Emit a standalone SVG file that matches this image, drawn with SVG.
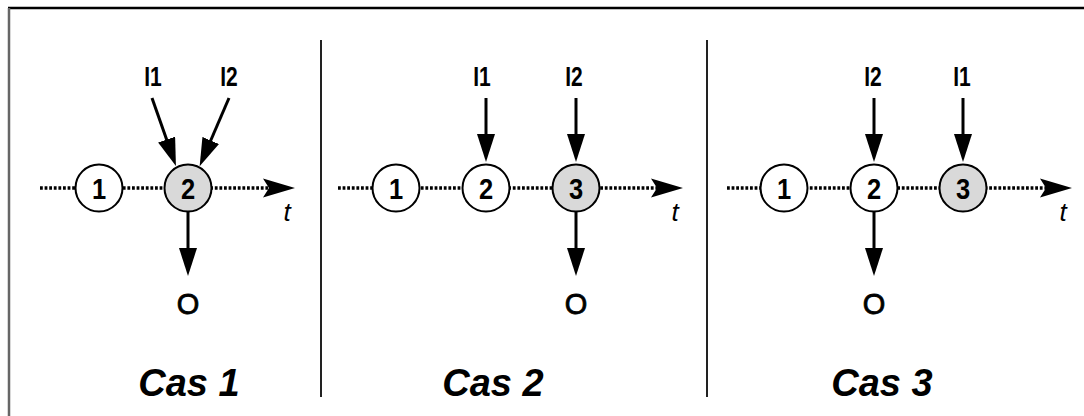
<svg xmlns="http://www.w3.org/2000/svg" width="1084" height="416" viewBox="0 0 1084 416">
<defs>
<style>
.frame-top{stroke:#000;stroke-width:2.5;fill:none}
.frame-left{stroke:#666;stroke-width:2.5;fill:none}
.div{stroke:#222;stroke-width:2;fill:none}
.dot{stroke:#000;stroke-width:3.5;stroke-dasharray:2.8 1.8;fill:none}
.arr{stroke:#000;stroke-width:3;fill:none}
.node{stroke:#000;stroke-width:2;fill:#fff}
.node.hl{fill:#d9d9d9}
.num{font-family:"Liberation Sans",Arial,sans-serif;font-weight:bold;font-size:30px;text-anchor:middle;fill:#000}
.lab{font-family:"Liberation Sans",Arial,sans-serif;font-weight:bold;font-size:28px;text-anchor:middle;fill:#000}
.out{font-family:"Liberation Sans",Arial,sans-serif;font-size:29px;text-anchor:middle;fill:#000;stroke:#000;stroke-width:0.8}
.t{font-family:"Liberation Sans",Arial,sans-serif;font-style:italic;font-size:26px;text-anchor:middle;fill:#000}
.cas{font-family:"Liberation Sans",Arial,sans-serif;font-weight:bold;font-style:italic;font-size:38px;text-anchor:middle;fill:#000}
</style>
<marker id="ah" markerUnits="userSpaceOnUse" markerWidth="28" markerHeight="18" refX="18" refY="9" orient="auto">
<path d="M0,0 L28,9 L0,18 z" fill="#000" stroke="none"/>
</marker>
<marker id="th" markerUnits="userSpaceOnUse" markerWidth="32" markerHeight="20" refX="6" refY="10" orient="auto">
<path d="M0,0.5 L32,10 L0,19.5 L6,10 z" fill="#000" stroke="none"/>
</marker>
</defs>
<rect width="1084" height="416" fill="#fff"/>
<g id="frame">
<line class="frame-top" x1="8" y1="8" x2="1084" y2="8"/>
<line class="frame-left" x1="9" y1="8" x2="9" y2="416"/>
<line class="div" x1="321" y1="40" x2="321" y2="397"/>
<line class="div" x1="707" y1="40" x2="707" y2="397"/>
</g>
<g id="connectors">
<line class="dot" x1="40" y1="188" x2="269" y2="188" marker-end="url(#th)"/>
<line class="dot" x1="338" y1="188" x2="657" y2="188" marker-end="url(#th)"/>
<line class="dot" x1="727" y1="188" x2="1046" y2="188" marker-end="url(#th)"/>
<line class="arr" x1="152" y1="98" x2="172.6" y2="156.6" marker-end="url(#ah)"/>
<line class="arr" x1="229" y1="98" x2="203.6" y2="157" marker-end="url(#ah)"/>
<line class="arr" x1="188" y1="212" x2="188" y2="266" marker-end="url(#ah)"/>
<line class="arr" x1="486" y1="98" x2="486" y2="152" marker-end="url(#ah)"/>
<line class="arr" x1="576" y1="98" x2="576" y2="152" marker-end="url(#ah)"/>
<line class="arr" x1="576" y1="212" x2="576" y2="266" marker-end="url(#ah)"/>
<line class="arr" x1="874" y1="98" x2="874" y2="152" marker-end="url(#ah)"/>
<line class="arr" x1="963" y1="98" x2="963" y2="152" marker-end="url(#ah)"/>
<line class="arr" x1="874" y1="212" x2="874" y2="266" marker-end="url(#ah)"/>
</g>
<g id="case1">
<g id="c1n1"><circle class="node" cx="99" cy="188" r="23.5"/><text class="num" transform="translate(99,198.5) scale(0.85,1)">1</text></g>
<g id="c1n2"><circle class="node hl" cx="188" cy="188" r="23.5"/><text class="num" transform="translate(188,198.5) scale(0.85,1)">2</text></g>
<text class="lab" transform="translate(153,86) scale(0.75,1)">I1</text>
<text class="lab" transform="translate(229,86) scale(0.75,1)">I2</text>
<text class="out" x="188" y="314">O</text>
<text class="t" x="287" y="221">t</text>
<text class="cas" x="189" y="396">Cas 1</text>
</g>
<g id="case2">
<g id="c2n1"><circle class="node" cx="396" cy="188" r="23.5"/><text class="num" transform="translate(396,198.5) scale(0.85,1)">1</text></g>
<g id="c2n2"><circle class="node" cx="486" cy="188" r="23.5"/><text class="num" transform="translate(486,198.5) scale(0.85,1)">2</text></g>
<g id="c2n3"><circle class="node hl" cx="576" cy="188" r="23.5"/><text class="num" transform="translate(576,198.5) scale(0.85,1)">3</text></g>
<text class="lab" transform="translate(482,86) scale(0.75,1)">I1</text>
<text class="lab" transform="translate(574,86) scale(0.75,1)">I2</text>
<text class="out" x="576" y="314">O</text>
<text class="t" x="675" y="221">t</text>
<text class="cas" x="493" y="396">Cas 2</text>
</g>
<g id="case3">
<g id="c3n1"><circle class="node" cx="784" cy="188" r="23.5"/><text class="num" transform="translate(784,198.5) scale(0.85,1)">1</text></g>
<g id="c3n2"><circle class="node" cx="874" cy="188" r="23.5"/><text class="num" transform="translate(874,198.5) scale(0.85,1)">2</text></g>
<g id="c3n3"><circle class="node hl" cx="963" cy="188" r="23.5"/><text class="num" transform="translate(963,198.5) scale(0.85,1)">3</text></g>
<text class="lab" transform="translate(873,86) scale(0.75,1)">I2</text>
<text class="lab" transform="translate(962,86) scale(0.75,1)">I1</text>
<text class="out" x="874" y="314">O</text>
<text class="t" x="1063" y="221">t</text>
<text class="cas" x="882" y="396">Cas 3</text>
</g>
</svg>
